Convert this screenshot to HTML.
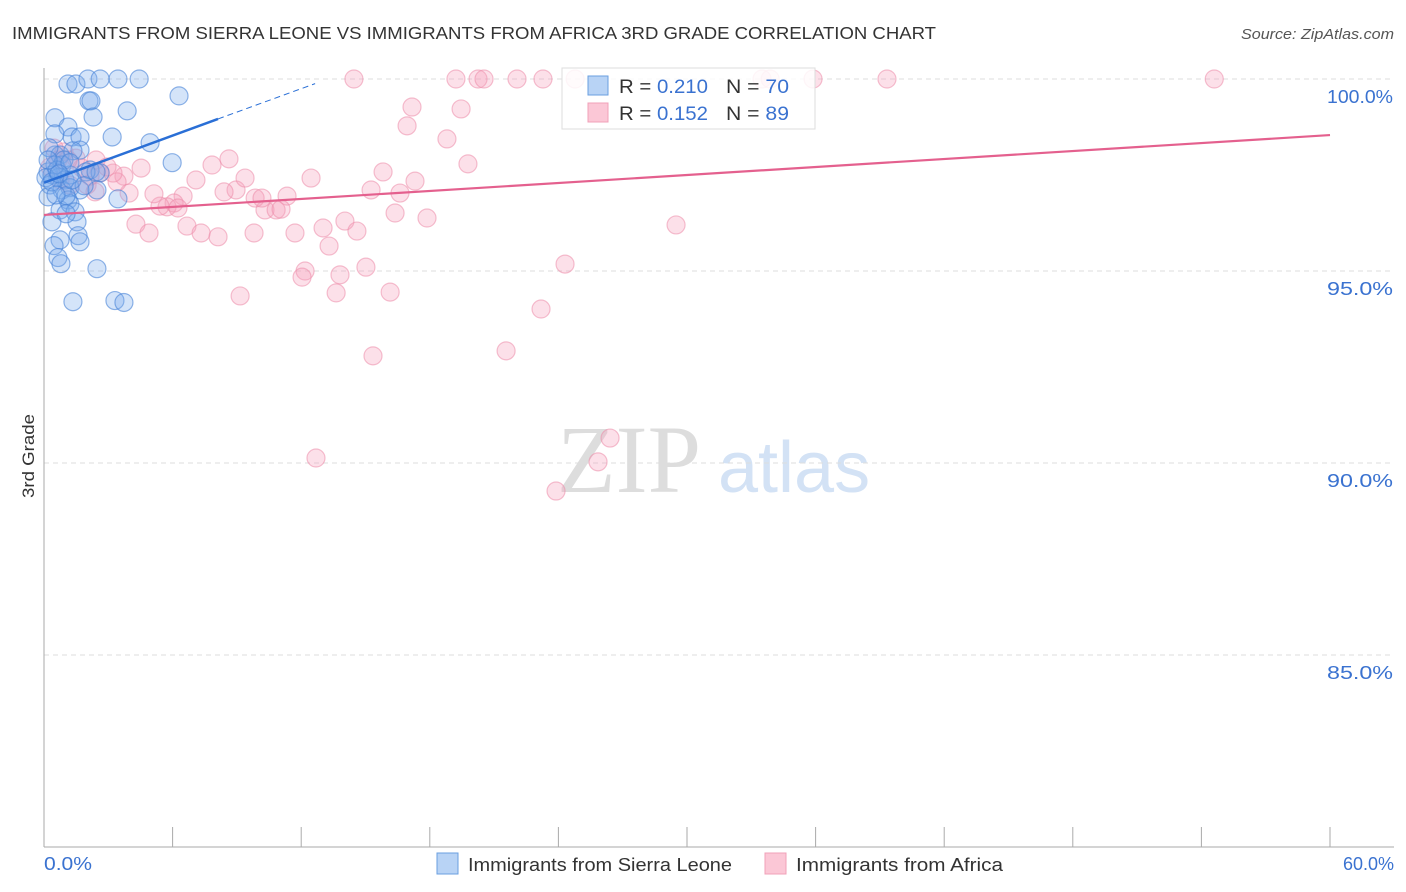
<!DOCTYPE html>
<html><head><meta charset="utf-8"><style>
body{margin:0;background:#fff;font-family:"Liberation Sans",sans-serif;}
svg{display:block}
</style></head><body>
<svg id="c" width="1406" height="892">
<text x="12" y="39" font-size="17.5" fill="#333" textLength="924" lengthAdjust="spacingAndGlyphs">IMMIGRANTS FROM SIERRA LEONE VS IMMIGRANTS FROM AFRICA 3RD GRADE CORRELATION CHART</text>
<text x="1241" y="39" font-size="14.5" fill="#555" font-style="italic" textLength="153" lengthAdjust="spacingAndGlyphs">Source: ZipAtlas.com</text>
<text transform="translate(34,456) rotate(-90)" font-size="17" fill="#333" text-anchor="middle" textLength="84" lengthAdjust="spacingAndGlyphs">3rd Grade</text>
<g><text x="557" y="492" font-family="Liberation Serif,serif" font-size="96" fill="#ddd">ZIP</text><text x="718" y="492" font-size="72" fill="#d3e2f5">atlas</text></g>
<g id="grid"></g><g id="axes"></g><g id="pink"></g><g id="blue"></g><g id="lines"></g>
<g>
<rect x="562" y="68" width="253" height="61" fill="#fff" fill-opacity="0.85" stroke="#ddd"/>
<rect x="588" y="76" width="20" height="19" fill="#b8d3f5" stroke="#6a9fe0"/>
<rect x="588" y="103" width="20" height="19" fill="#fbc7d6" stroke="#f0a0b8"/>
<text x="619" y="93" font-size="19" fill="#333" textLength="89" lengthAdjust="spacingAndGlyphs">R = <tspan fill="#3a72d0">0.210</tspan></text>
<text x="726" y="93" font-size="19" fill="#333" textLength="63" lengthAdjust="spacingAndGlyphs">N = <tspan fill="#3a72d0">70</tspan></text>
<text x="619" y="120" font-size="19" fill="#333" textLength="89" lengthAdjust="spacingAndGlyphs">R = <tspan fill="#3a72d0">0.152</tspan></text>
<text x="726" y="120" font-size="19" fill="#333" textLength="63" lengthAdjust="spacingAndGlyphs">N = <tspan fill="#3a72d0">89</tspan></text>
</g>
<g>
<rect x="437" y="853" width="21" height="21" fill="#b8d3f5" stroke="#6a9fe0"/>
<text x="468" y="871" font-size="18.5" fill="#333" textLength="264" lengthAdjust="spacingAndGlyphs">Immigrants from Sierra Leone</text>
<rect x="765" y="853" width="21" height="21" fill="#fbc7d6" stroke="#f0a0b8"/>
<text x="796" y="871" font-size="18.5" fill="#333" textLength="207" lengthAdjust="spacingAndGlyphs">Immigrants from Africa</text>
</g>
</svg>
<script>
const yTicks=[100,95,90,85];
const xTickLabels=["0.0%","60.0%"];
const blueX=[1.12,1.49,2.05,2.62,3.45,4.44,6.3,2.1,2.19,3.88,2.29,0.51,3.18,1.12,0.51,1.31,1.68,4.95,1.68,0.51,0.75,5.98,0.84,2.15,2.62,3.45,0.19,0.37,0.65,0.98,1.21,0.28,0.84,1.21,1.68,2.47,0.19,1.12,0.75,1.21,1.45,0.37,1.54,1.59,1.68,0.75,0.47,0.65,0.79,2.47,1.35,3.31,3.73,0.51,0.09,0.37,1.96,1.03,0.23,1.35,0.61,0.93,2.43,1.87,0.56,1.03,0.19,1.21,0.7,1.31];
const blueY=[99.87,99.87,100,100,100,100,99.56,99.43,99.43,99.17,99.01,98.99,98.49,98.75,98.57,98.49,98.49,98.34,98.15,98.02,98.02,97.82,97.76,97.63,97.56,96.88,97.58,97.5,97.43,97.37,97.5,97.24,97.11,97.17,97.11,97.11,96.93,96.85,96.59,96.75,96.54,96.28,96.28,95.92,95.76,95.81,95.66,95.35,95.19,95.06,94.2,94.23,94.18,97.76,97.43,97.32,97.58,96.96,98.21,98.13,97.63,97.89,97.58,97.22,96.98,96.49,97.89,97.82,97.53,97.37];
const pinkX=[14.46,19.22,20.25,20.53,22.07,23.28,24.78,33.5,33.88,35.88,39.33,54.6,17.17,16.94,19.46,18.8,19.78,15.82,17.31,15.26,16.61,16.38,17.87,29.49,12.46,11.34,10.31,10.83,11.06,9.85,10.17,8.96,9.38,8.4,8.63,7.84,7.09,6.49,6.07,5.74,5.41,6.25,5.13,3.97,4.53,3.73,3.41,2.61,2.43,1.49,0.93,0.65,0.47,0.28,2.01,3.22,4.29,4.9,6.67,7.33,8.12,9.8,11.71,13.02,14.04,14.6,13.3,12.18,12.04,13.81,15.02,16.15,13.63,9.15,15.35,21.56,23.19,24.31,12.69,26.41,25.85,23.89,1.21,2.94,1.77,0.75,2.15,2.38,1.12];
const pinkY=[100,100,100,100,100,100,100,100,100,100,100,100,99.27,98.78,99.22,98.44,97.79,97.58,97.34,97.11,97.03,96.51,96.38,96.2,97.42,96.95,96.59,96.59,96.61,96.9,96.9,97.11,97.42,97.06,97.92,97.76,97.37,96.95,96.77,96.67,96.69,96.64,97.01,97.03,97.68,97.47,97.32,97.55,97.89,97.94,98.1,97.89,98.2,97.71,97.24,97.55,96.22,95.99,96.17,95.99,95.89,95.99,95.99,96.12,96.3,96.04,95.65,95.0,94.84,94.9,95.1,94.45,94.43,94.35,92.79,92.92,94.01,95.18,90.13,90.65,90.03,89.27,97.24,97.71,97.68,97.37,97.47,97.06,97.89];
const blueTrend=[0,97.3,8.12,98.96,12.65,99.88];
const pinkTrend=[0,96.46,60,98.54];
const NS="http://www.w3.org/2000/svg";
const X=v=>44+v/60*1286, Y=v=>79+(100-v)*38.4;
function mk(tag,attrs,parent){const e=document.createElementNS(NS,tag);for(const k in attrs)e.setAttribute(k,attrs[k]);document.getElementById(parent).appendChild(e);return e;}
yTicks.forEach(t=>{
 const g=mk('line',{x1:44,x2:1394,y1:Y(t),y2:Y(t),stroke:'#ddd','stroke-dasharray':'5,4'},'grid');
 
 
 const l=mk('text',{x:1393,y:Y(t)+24,'text-anchor':'end','font-size':18,fill:'#3a72d0',textLength:66,lengthAdjust:'spacingAndGlyphs'},'grid');
 l.textContent=t.toFixed(1)+'%';
 
 
});
let a=mk('line',{x1:44,x2:44,y1:68,y2:847,stroke:'#aaa'},'axes');


a=mk('line',{x1:44,x2:1394,y1:847,y2:847,stroke:'#aaa'},'axes');


for(let i=0;i<=10;i++){const t=mk('line',{x1:X(i*6),x2:X(i*6),y1:827,y2:847,stroke:'#aaa'},'axes');
 
 }
let tl=mk('text',{x:44,y:870,'font-size':18,fill:'#3a72d0',textLength:48,lengthAdjust:'spacingAndGlyphs'},'axes');tl.textContent=xTickLabels[0];


tl=mk('text',{x:1394,y:870,'font-size':18,fill:'#3a72d0','text-anchor':'end'},'axes');tl.textContent=xTickLabels[1];


pinkX.forEach((v,i)=>{const c=mk('circle',{cx:X(v),cy:Y(pinkY[i]),r:9,fill:'rgba(246,160,187,0.32)',stroke:'rgba(236,140,170,0.55)','stroke-width':1.2},'pink');
 
 });
blueX.forEach((v,i)=>{const c=mk('circle',{cx:X(v),cy:Y(blueY[i]),r:9,fill:'rgba(120,170,235,0.32)',stroke:'rgba(70,130,215,0.6)','stroke-width':1.2},'blue');
 
 });
let ln=mk('line',{x1:X(blueTrend[0]),y1:Y(blueTrend[1]),x2:X(blueTrend[2]),y2:Y(blueTrend[3]),stroke:'#2a6fd6','stroke-width':2.5},'lines');


ln=mk('line',{x1:X(blueTrend[2]),y1:Y(blueTrend[3]),x2:X(blueTrend[4]),y2:Y(blueTrend[5]),stroke:'#2a6fd6','stroke-width':1,'stroke-dasharray':'6,4'},'lines');


ln=mk('line',{x1:X(pinkTrend[0]),y1:Y(pinkTrend[1]),x2:X(pinkTrend[2]),y2:Y(pinkTrend[3]),stroke:'#e4608e','stroke-width':2.2},'lines');


</script>
</body></html>
